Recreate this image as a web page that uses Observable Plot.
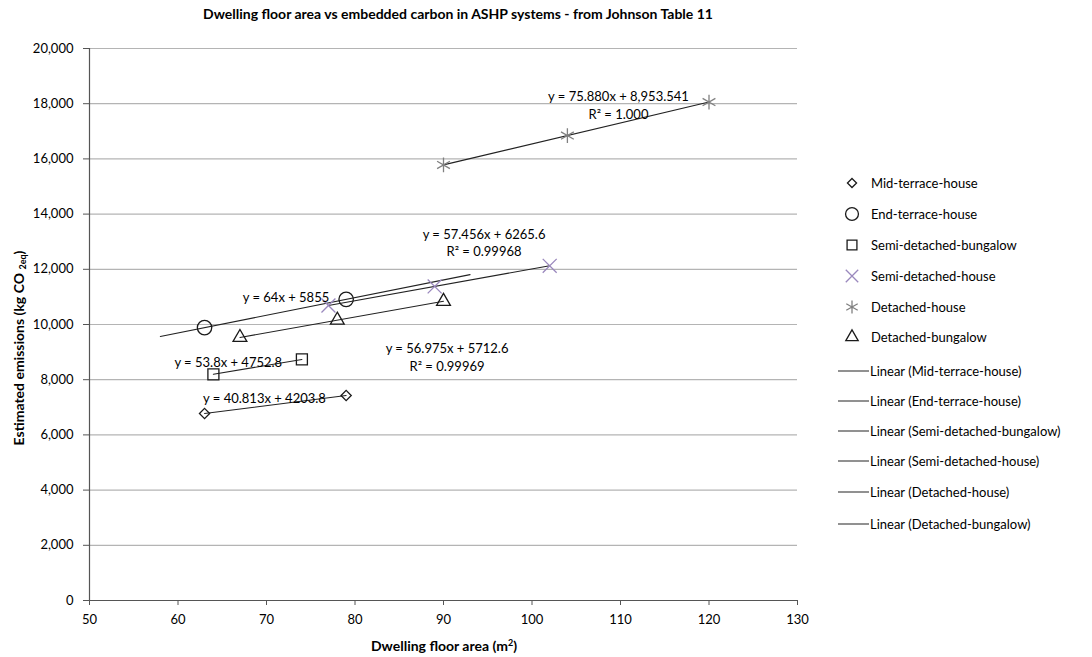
<!DOCTYPE html>
<html>
<head>
<meta charset="utf-8">
<script src="https://cdn.jsdelivr.net/npm/d3@7"></script>
<script src="https://cdn.jsdelivr.net/npm/@observablehq/plot@0.6"></script>
<style>
  body { margin: 0; background: #fff; font-family: Lato, "Open Sans", sans-serif; color: #000; }
  #wrap { position: relative; width: 1092px; height: 657px; overflow: hidden; background: #fff; }
  #chart { position: absolute; left: 0; top: 0; }
  .title { position: absolute; left: 458px; top: 13px; transform: translate(-50%, -50%); white-space: nowrap; font-weight: bold; font-size: 14px; }
  .ylab { position: absolute; left: 19px; top: 348px; transform: translate(-50%, -50%) rotate(-90deg); white-space: nowrap; font-weight: bold; font-size: 14px; }
  .ylab sub { font-size: 9px; vertical-align: -2px; }
  .xlab { position: absolute; left: 444px; top: 645px; transform: translate(-50%, -50%); white-space: nowrap; font-weight: bold; font-size: 14px; }
  .xlab sup { font-size: 9px; vertical-align: 5px; line-height: 0; }
  .lg { position: absolute; height: 18px; line-height: 18px; font-size: 13px; white-space: nowrap; }
  .lg svg { position: absolute; top: 0; }
</style>
</head>
<body>
<div id="wrap">
  <div id="chart"></div>
  <div class="title">Dwelling floor area vs embedded carbon in ASHP systems - from Johnson Table 11</div>
  <div class="ylab">Estimated emissions (kg CO <sub>2eq</sub>)</div>
  <div class="xlab">Dwelling floor area (m<sup>2</sup>)</div>
  <div id="legend"></div>
</div>
<script>
// Dwelling types and their measured floor area (m²) / embedded carbon (kg CO2eq)
const dwellingTypes = ["Mid-terrace-house", "End-terrace-house", "Semi-detached-bungalow", "Semi-detached-house", "Detached-house", "Detached-bungalow"];

const midTerraceArea = [63, 79];
const midTerraceCarbon = [6775, 7428];
const endTerraceArea = [63, 79];
const endTerraceCarbon = [9887, 10911];
const semiBungalowArea = [64, 74];
const semiBungalowCarbon = [8196, 8734];
const semiHouseArea = [77, 89, 102];
const semiHouseCarbon = [10690, 11379, 12126];
const detachedHouseArea = [90, 104, 120];
const detachedHouseCarbon = [15783, 16845, 18059];
const detachedBungalowArea = [67, 78, 90];
const detachedBungalowCarbon = [9530, 10157, 10840];

// Linear trendline fits (slope, intercept) and the x-span each line covers
const trendSlope = [40.813, 64, 53.8, 57.456, 75.880, 56.975];
const trendIntercept = [4203.8, 5855, 4752.8, 6265.6, 8953.541, 5712.6];
const trendFrom = [63, 58, 64, 77, 90, 67];
const trendTo = [79, 93, 74, 102, 120, 90];

// Equation labels and where they sit (data coordinates)
const trendLabel = [
  "y = 40.813x + 4203.8",
  "y = 64x + 5855",
  "y = 53.8x + 4752.8",
  "y = 57.456x + 6265.6\nR² = 0.99968",
  "y = 75.880x + 8,953.541\nR² = 1.000",
  "y = 56.975x + 5712.6\nR² = 0.99969"
];
const labelX = [69.77, 72.2, 65.68, 94.58, 109.77, 90.4];
const labelY = [7344, 11014, 8659, 12996, 17975, 8841];

// Axis ticks
const xTicks = [50, 60, 70, 80, 90, 100, 110, 120, 130];
const yTicks = [0, 2000, 4000, 6000, 8000, 10000, 12000, 14000, 16000, 18000, 20000];

const areas = [midTerraceArea, endTerraceArea, semiBungalowArea, semiHouseArea, detachedHouseArea, detachedBungalowArea];
const carbons = [midTerraceCarbon, endTerraceCarbon, semiBungalowCarbon, semiHouseCarbon, detachedHouseCarbon, detachedBungalowCarbon];

// Marker style per dwelling type
const markStyle = [
  {symbol: "diamond2", r: 4.6, stroke: "#1a1a1a"},
  {symbol: "circle", r: 7.2, stroke: "#1a1a1a"},
  {symbol: "square2", r: 7, stroke: "#1a1a1a"},
  {symbol: "times", r: 6.4, stroke: "#9a88bd"},
  {symbol: "asterisk", r: 7, stroke: "#808080"},
  {symbol: "triangle2", r: 6.6, stroke: "#1a1a1a"}
];

const points = dwellingTypes.map((type, i) =>
  areas[i].map((a, j) => ({type, area: a, carbon: carbons[i][j]}))
);

const trendLines = dwellingTypes.map((type, i) =>
  [trendFrom[i], trendTo[i]].map(x => ({type, area: x, carbon: trendSlope[i] * x + trendIntercept[i]}))
);

const labels = dwellingTypes.map((type, i) => ({type, x: labelX[i], y: labelY[i], text: trendLabel[i]}));

const chart = Plot.plot({
  width: 820,
  height: 657,
  marginLeft: 89,
  marginRight: 23,
  marginTop: 48,
  marginBottom: 57,
  style: {fontFamily: "Lato, 'Open Sans', sans-serif", fontSize: "13px", color: "#000", background: "#fff"},
  x: {domain: [50, 130], label: null},
  y: {domain: [0, 20000], label: null},
  marks: [
    Plot.gridY(yTicks, {stroke: "#b4b4b4", strokeOpacity: 1, strokeWidth: 1.2}),
    Plot.axisX(xTicks, {tickSize: 5, tickPadding: 9, label: null, fontSize: 13, stroke: "#555", fill: "#000"}),
    Plot.axisY(yTicks, {tickSize: 6, tickPadding: 10, tickFormat: d3.format(","), label: null, fontSize: 13, stroke: "#555", fill: "#000"}),
    Plot.ruleX([50], {stroke: "#555", strokeWidth: 1.2}),
    Plot.ruleY([0], {stroke: "#555", strokeWidth: 1.2}),
    ...trendLines.map(d => Plot.line(d, {x: "area", y: "carbon", stroke: "#222", strokeWidth: 1.1})),
    ...points.map((d, i) => Plot.dot(d, {
      x: "area", y: "carbon",
      symbol: () => markStyle[i].symbol,
      r: markStyle[i].r,
      stroke: markStyle[i].stroke,
      strokeWidth: 1.3,
      fill: "none"
    })),
    Plot.text(labels, {x: "x", y: "y", text: "text", fontSize: 13, lineHeight: 1.35, fill: "#000"})
  ]
});
document.getElementById("chart").appendChild(chart);

// Legend: marker rows followed by trendline rows
const legend = document.getElementById("legend");
const markRowY = [183, 214, 245, 276, 307, 337];
const lineRowY = [371, 401, 431, 461, 492, 524];
const symbolMap = {
  diamond2: d3.symbolDiamond2, circle: d3.symbolCircle, square2: d3.symbolSquare2,
  times: d3.symbolTimes, asterisk: d3.symbolAsterisk, triangle2: d3.symbolTriangle2
};
dwellingTypes.forEach((type, i) => {
  const row = document.createElement("div");
  row.className = "lg";
  row.style.left = "843px";
  row.style.top = (markRowY[i] - 9) + "px";
  const s = markStyle[i];
  const size = Math.PI * s.r * s.r * 0.8;
  row.innerHTML = `<svg width="20" height="18" style="left:0"><path transform="translate(9,9)" d="${d3.symbol(symbolMap[s.symbol], size)()}" fill="none" stroke="${s.stroke}" stroke-width="1.3"></path></svg><span style="position:absolute;left:28px">${type}</span>`;
  legend.appendChild(row);
});
dwellingTypes.forEach((type, i) => {
  const row = document.createElement("div");
  row.className = "lg";
  row.style.left = "838px";
  row.style.top = (lineRowY[i] - 9) + "px";
  row.innerHTML = `<svg width="32" height="18" style="left:0"><line x1="0" x2="31" y1="9" y2="9" stroke="#555" stroke-width="1.3"></line></svg><span style="position:absolute;left:32px">Linear (${type})</span>`;
  legend.appendChild(row);
});
</script>
</body>
</html>
